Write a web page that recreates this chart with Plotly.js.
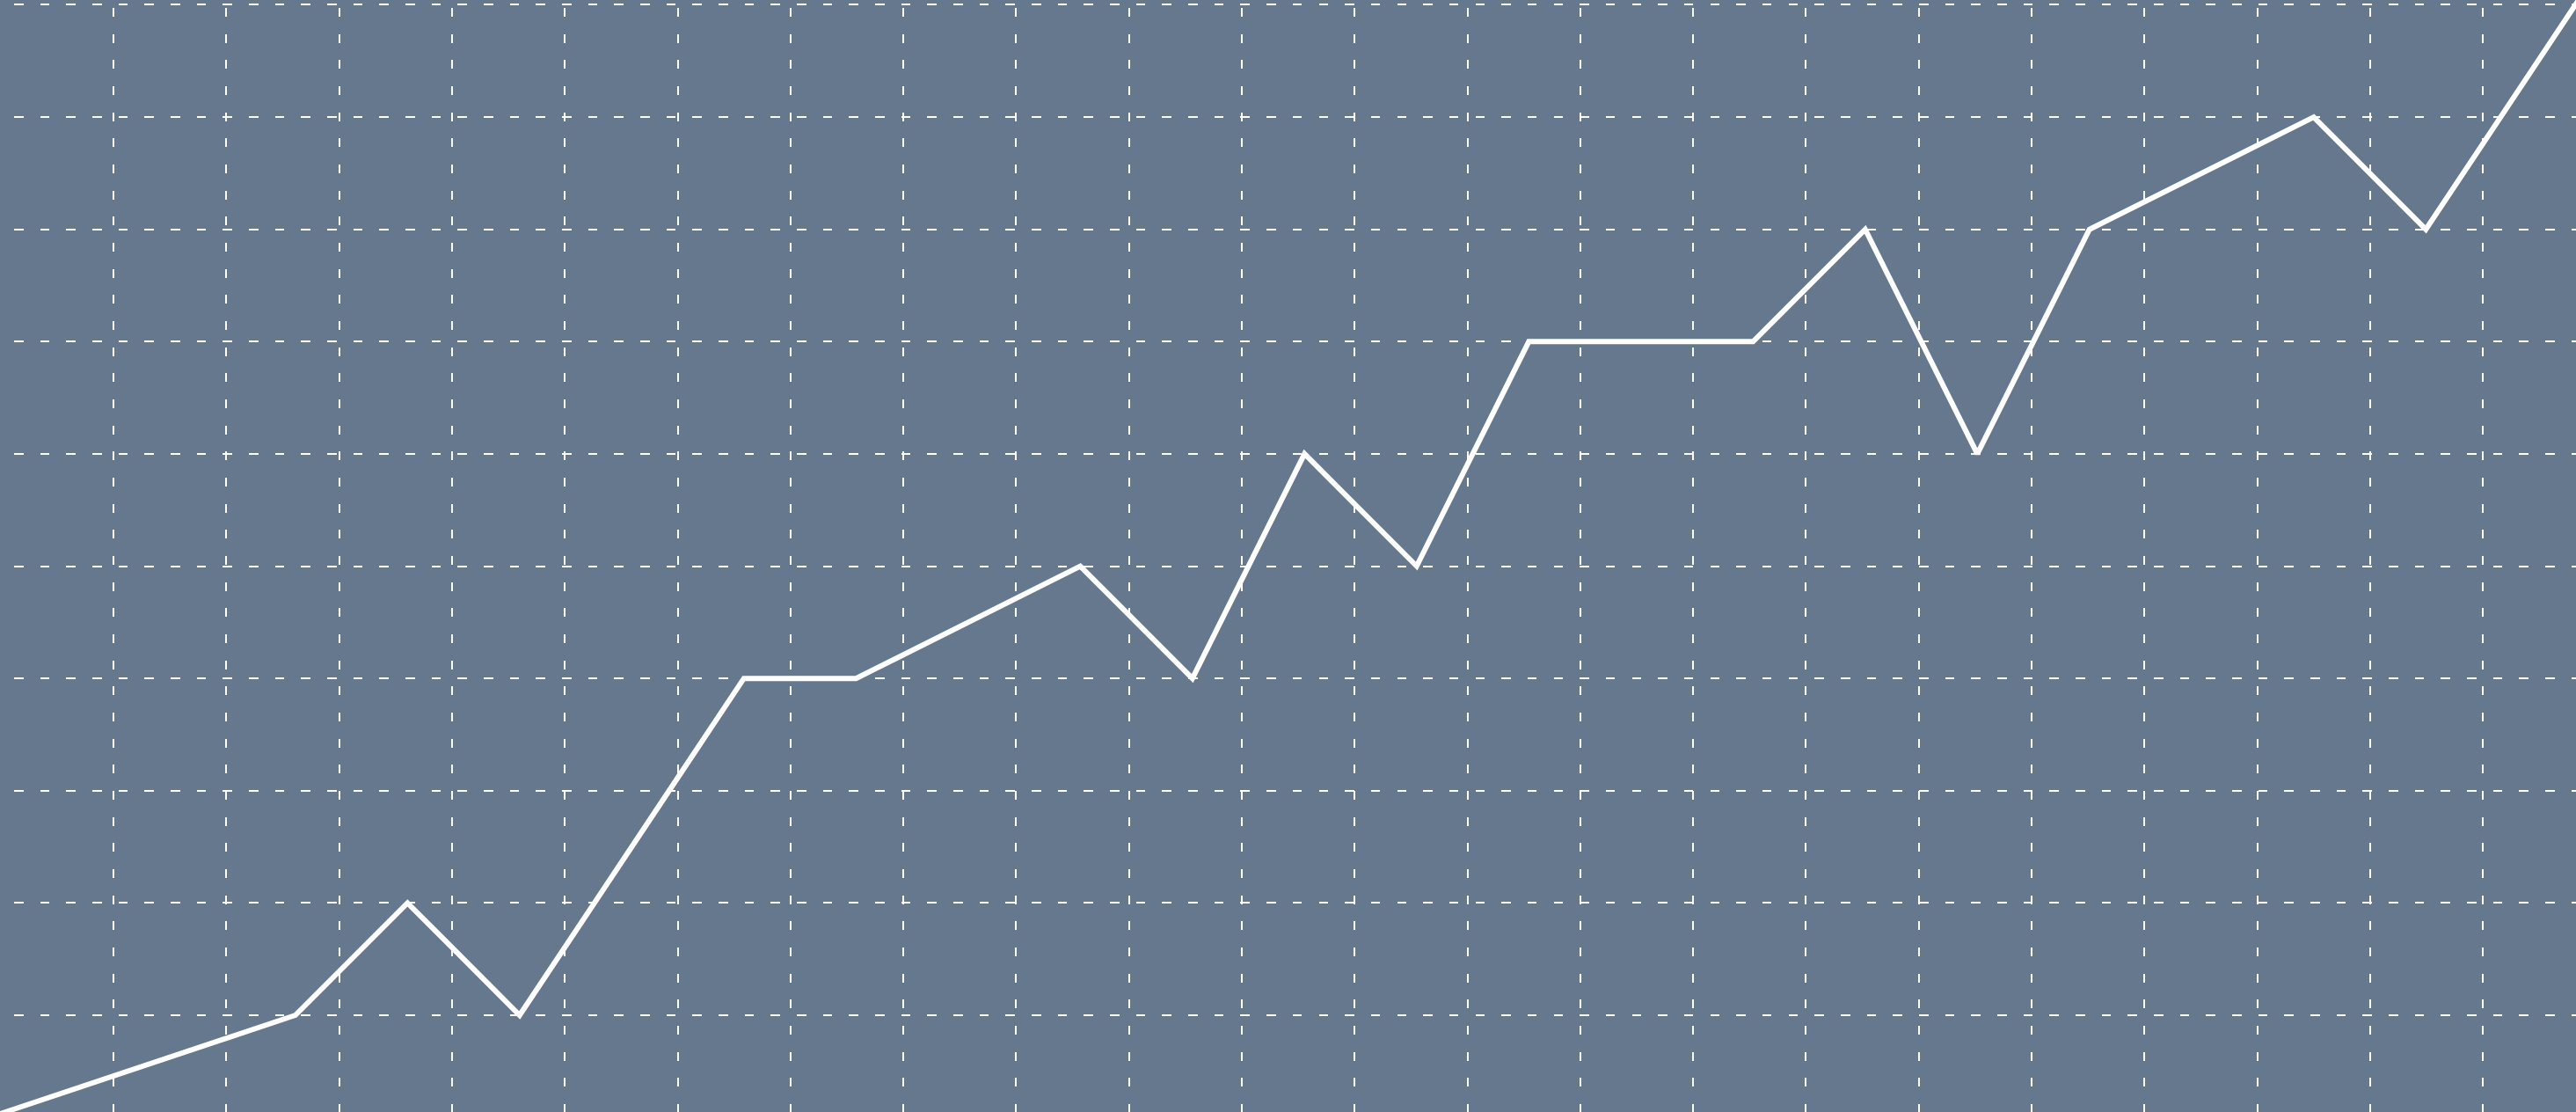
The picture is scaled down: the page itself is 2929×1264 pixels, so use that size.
<!DOCTYPE html>
<html>
<head>
<meta charset="utf-8">
<script src="https://cdn.plot.ly/plotly-3.0.1.min.js"></script>
<style>
  html, body { margin: 0; padding: 0; background: #65788d; overflow: hidden; }
  #chart { width: 2929px; height: 1264px; }
</style>
</head>
<body>
<div id="chart"></div>
<script>
// Data
const xValues = [0, 3, 4, 5, 7, 8, 10, 11, 12, 13, 14, 16, 17, 18, 19, 21, 22, 24];
const yValues = [0, 1, 2, 1, 4, 4, 5, 4, 6, 5, 7, 7, 8, 6, 8, 9, 8, 11];

const bg = 'rgb(101,120,141)';

const trace = {
  x: xValues,
  y: yValues,
  type: 'scatter',
  mode: 'lines',
  line: { color: '#ffffff', width: 6 },
  hoverinfo: 'skip'
};

const layout = {
  width: 2929,
  height: 1264,
  margin: { l: 0, r: 0, t: 0, b: 0, pad: 0 },
  paper_bgcolor: bg,
  plot_bgcolor: bg,
  showlegend: false,
  xaxis: {
    range: [0.366, 23.339],
    tickmode: 'linear',
    tick0: 0.3725,
    dtick: 1.0062,
    showgrid: true,
    gridcolor: '#ffffff',
    gridwidth: 2,
    griddash: '0px,9px,10px,10.67px',
    showticklabels: false,
    ticks: '',
    zeroline: false,
    showline: false,
    fixedrange: true
  },
  yaxis: {
    range: [0.138, 10.043],
    tickmode: 'linear',
    tick0: 0,
    dtick: 1,
    showgrid: true,
    gridcolor: '#ffffff',
    gridwidth: 2,
    griddash: '0px,16px,10.6px,3.07px',
    showticklabels: false,
    ticks: '',
    zeroline: false,
    showline: false,
    fixedrange: true
  }
};

Plotly.newPlot('chart', [trace], layout, { displayModeBar: false, staticPlot: true });
</script>
</body>
</html>
